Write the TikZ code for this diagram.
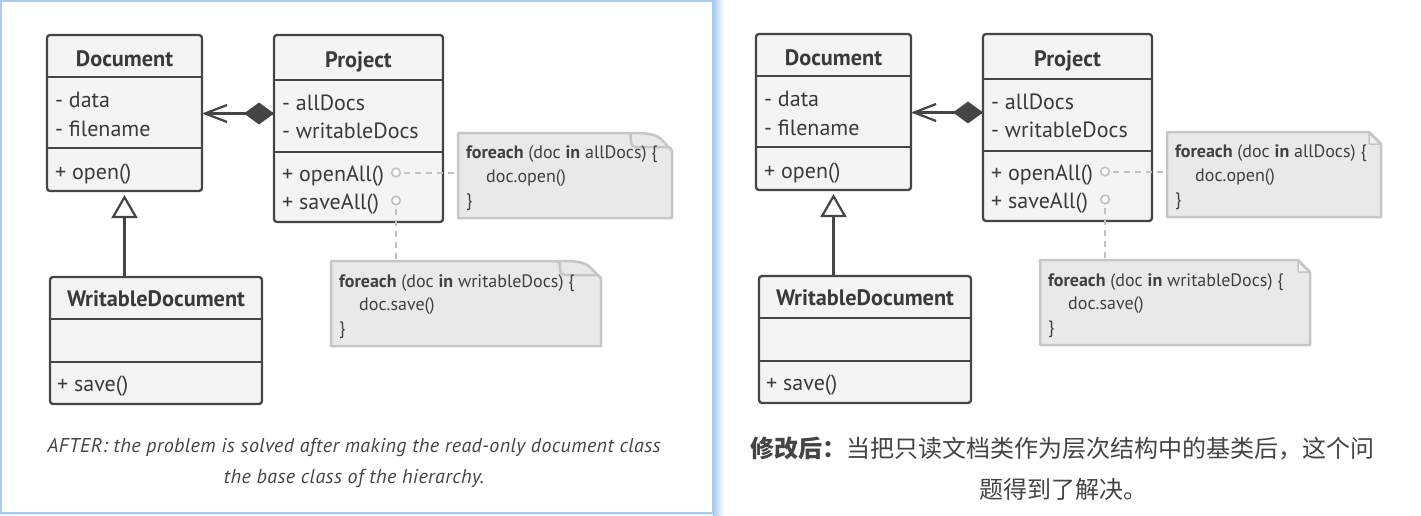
\documentclass[tikz,border=0pt]{standalone}
\usepackage{fontspec}
\setmainfont{PT Sans}
\newfontfamily\notefont{PT Sans}
\newfontfamily\capfont[LetterSpace=2]{PT Sans}
\newfontfamily\cjk{Noto Sans CJK SC}
\usetikzlibrary{arrows.meta}
\definecolor{boxline}{HTML}{454545}
\definecolor{boxfill}{HTML}{F4F4F4}
\definecolor{notefill}{HTML}{E9E9E9}
\definecolor{noteline}{HTML}{C6C6C6}
\definecolor{earfill}{HTML}{F2F2F2}
\definecolor{txt}{HTML}{3A3A3A}
\definecolor{notetxt}{HTML}{404040}
\definecolor{pingray}{HTML}{C2C2C2}
\definecolor{captxt}{HTML}{444444}
\definecolor{panelblue}{HTML}{A8CAF3}
\tikzset{
  umlbox/.style={draw=boxline, fill=boxfill, line width=2.3pt, rounded corners=3pt, inner sep=0pt, outer sep=0pt, anchor=north west},
  divline/.style={draw=boxline, line width=2.3pt},
  umltitle/.style={font=\fontsize{22.3}{26}\selectfont\bfseries, text=txt, anchor=base, inner sep=0pt},
  member/.style={font=\fontsize{22}{26}\selectfont, text=txt, anchor=base west, inner sep=0pt},
  notetext/.style={font=\notefont\fontsize{18}{21}\selectfont, text=notetxt, anchor=base west, inner sep=0pt},
  noteshape/.style={fill=notefill, draw=noteline, line width=2.5pt, line join=round},
  dotpin/.style={circle, draw=pingray, line width=1.6pt, minimum size=8.5pt, inner sep=0pt, fill=white},
  conn/.style={draw=pingray, line width=2pt, dash pattern=on 6pt off 5pt},
  rel/.style={draw=boxline, line width=2.2pt},
  notebase/.style={inner sep=0pt, outer sep=0pt, anchor=north west},
  captext/.style={font=\capfont\itshape\fontsize{20}{24}\selectfont, text=captxt, anchor=base},
  cjktext/.style={font=\cjk\fontsize{24}{28}\selectfont, text=captxt, anchor=base},
}
% name x1 y1 x2 y2 div1 div2
\newcommand\umlclass[7]{%
  \node[umlbox, minimum width={#4-#2}, minimum height={#5-#3}] (#1) at (#2,#3) {};
  \draw[divline] (#2,#6) -- (#4,#6);
  \draw[divline] (#2,#7) -- (#4,#7);
}
% curled note: name x1 y1 x2 y2
\newcommand\curlnote[5]{%
  \node[notebase, minimum width={#4-#2}, minimum height={#5-#3}] (#1) at (#2,#3) {};
  \filldraw[noteshape] (#2,#3) -- (#4-44,#3) -- (#4-30,#3) .. controls (#4-14,#3+2) .. (#4,#3+18) -- (#4,#5) -- (#2,#5) -- cycle;
  \draw[noteshape, fill=none] (#4-45,#3) .. controls (#4-41,#3) and (#4-41,#3+3) .. (#4-41,#3+8) .. controls (#4-41,#3+12) and (#4-39,#3+14) .. (#4-35,#3+14) -- (#4-5,#3+14) .. controls (#4-2,#3+14) .. (#4,#3+18);
}
% dog-ear note: name x1 y1 x2 y2
\newcommand\earnote[5]{%
  \node[notebase, minimum width={#4-#2}, minimum height={#5-#3}] (#1) at (#2,#3) {};
  \filldraw[noteshape] (#2,#3) -- (#4-12,#3) -- (#4,#3+12) -- (#4,#5) -- (#2,#5) -- cycle;
  \filldraw[noteshape, fill=earfill, line width=1.5pt] (#4-12,#3+1) -- (#4-12,#3+12) -- (#4-1,#3+12) -- cycle;
}
% prefix, note macro
\newcommand\umlpanel[2]{%
  \umlclass{#1doc}{47}{35}{202}{191}{77}{148}
  \node[umltitle] (#1doct) at (124.5,66) {Document};
  \node[member] (#1doca) at (55,107.5) {- data};
  \node[member] (#1docb) at (55,136.5) {- filename};
  \node[member] (#1docc) at (55,179) {+ open()};
  \umlclass{#1proj}{274}{35}{443}{222}{80}{152}
  \node[umltitle] (#1projt) at (358.5,67) {Project};
  \node[member] (#1proja) at (282,110) {- allDocs};
  \node[member] (#1projb) at (282,138.5) {- writableDocs};
  \node[member] (#1projc) at (282,181.5) {+ openAll()};
  \node[member] (#1projd) at (282,209.5) {+ saveAll()};
  \umlclass{#1wd}{50}{277}{262}{404}{319}{362}
  \node[umltitle] (#1wdt) at (156,306) {WritableDocument};
  \node[member] (#1wdc) at (57,391) {+ save()};
  #2{#1n1}{458}{133}{672}{218}
  #2{#1n2}{331}{261}{601}{346}
  \node[notetext] (#1n1a) at (466,158) {\textbf{foreach} (doc \textbf{in} allDocs) \{};
  \node[notetext] (#1n1b) at (486,182) {doc.open()};
  \node[notetext] (#1n1c) at (466,206) {\}};
  \node[notetext] (#1n2a) at (339,287) {\textbf{foreach} (doc \textbf{in} writableDocs) \{};
  \node[notetext] (#1n2b) at (359,310.5) {doc.save()};
  \node[notetext] (#1n2c) at (339,334) {\}};
  \node[dotpin] (#1c1) at (396,172.5) {};
  \node[dotpin] (#1c2) at (396,200.5) {};
  \draw[conn] (#1c1.east) ++(3pt,0) -- (#1n1.west |- #1c1);
  \draw[conn] (#1c2.south) ++(0,-3pt) -- (#1c2 |- #1n2.north);
  \coordinate (#1agg) at (0,113.5);
  \draw[rel, -{Straight Barb[length=22pt, width=17pt, line width=2.2pt]}]
    (#1proj.west |- #1agg) -- (#1doc.east |- #1agg);
  \fill[boxline] (#1proj.west |- #1agg) -- ++(-15,-11) -- ++(-15,11) -- ++(15,11) -- cycle;
  \draw[rel, -{Triangle[open, length=23pt, width=26pt, fill=white, line width=2.2pt]}, shorten >=4pt]
    (#1doc.south |- #1wd.north) -- (#1doc.south);
}
\begin{document}
\begin{tikzpicture}[x=1pt, y=-1pt]
\useasboundingbox (0,0) rectangle (1421,515);
% left panel frame
\shade[left color=panelblue, right color=white] (713,0) rectangle (724,515);
\shade[top color=panelblue, bottom color=white] (0,512) rectangle (713,515);
\draw[panelblue, line width=1.6pt] (713,513) -- (713,0.8) -- (0.8,0.8) -- (0.8,513) -- (713,513);
\begin{scope}
  \umlpanel{L}{\curlnote}
\end{scope}
\begin{scope}[xshift=709pt, yshift=1pt]
  \umlpanel{R}{\earnote}
\end{scope}
\node[captext] (capL1) at (354,452) {AFTER: the problem is solved after making the read-only document class};
\node[captext] (capL2) at (354,483) {the base class of the hierarchy.};
\node[cjktext] (capR1) at (1062,457) {\textbf{修改后：}当把只读文档类作为层次结构中的基类后，这个问};
\node[cjktext] (capR2) at (1063,498) {题得到了解决。};
\end{tikzpicture}
\end{document}
